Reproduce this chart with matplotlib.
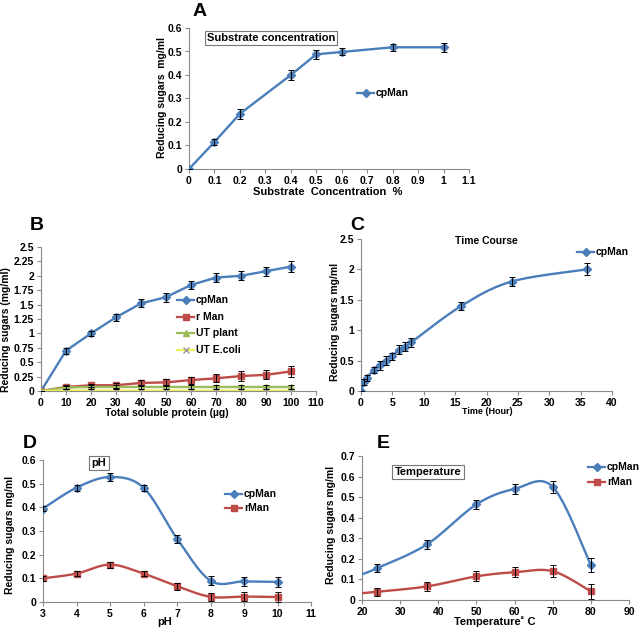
import numpy as np
import matplotlib
matplotlib.use("Agg")
import matplotlib.pyplot as plt

plt.rcParams['font.family'] = ['Liberation Sans', 'DejaVu Sans']
plt.rcParams['font.weight'] = 'bold'

BLUE = "#4A7EBB"
RED = "#BE4B48"
GREEN = "#9BBB59"
YELLOW = "#EEEE55"

# A: substrate concentration
a_x = [0, 0.1, 0.2, 0.4, 0.5, 0.6, 0.8, 1.0]
a_y = [0, 0.115, 0.235, 0.40, 0.488, 0.498, 0.518, 0.518]
a_err = [0, 0.012, 0.022, 0.02, 0.018, 0.015, 0.016, 0.02]

# B: total soluble protein
b_x = [0, 10, 20, 30, 40, 50, 60, 70, 80, 90, 100]
b_cp = [0, 0.70, 1.00, 1.28, 1.52, 1.63, 1.84, 1.97, 2.00, 2.08, 2.16]
b_cp_err = [0, 0.05, 0.05, 0.06, 0.07, 0.08, 0.07, 0.07, 0.08, 0.08, 0.09]
b_r = [0, 0.07, 0.10, 0.10, 0.14, 0.15, 0.19, 0.22, 0.26, 0.28, 0.34]
b_r_err = [0, 0.03, 0.03, 0.04, 0.05, 0.06, 0.06, 0.07, 0.08, 0.08, 0.09]
b_ut = [0, 0.06, 0.07, 0.07, 0.07, 0.07, 0.07, 0.07, 0.07, 0.07, 0.07]
b_ut_err = [0, 0.03, 0.03, 0.03, 0.03, 0.03, 0.03, 0.03, 0.03, 0.03, 0.03]
b_ec = [0, 0.005, 0.005, 0.005, 0.005, 0.005, 0.005, 0.005, 0.005, 0.005, 0.005]

# C: time course
c_x = [0, 0.5, 1, 2, 3, 4, 5, 6, 7, 8, 16, 24, 36]
c_y = [0, 0.15, 0.22, 0.35, 0.42, 0.50, 0.57, 0.68, 0.73, 0.80, 1.40, 1.80, 2.00]
c_err = [0, 0.05, 0.05, 0.05, 0.08, 0.07, 0.06, 0.07, 0.08, 0.07, 0.06, 0.07, 0.1]

# D: pH
d_x = [3, 4, 5, 6, 7, 8, 9, 10]
d_cp = [0.395, 0.483, 0.528, 0.483, 0.268, 0.09, 0.087, 0.085]
d_cp_err = [0.01, 0.013, 0.017, 0.013, 0.017, 0.02, 0.02, 0.022]
d_r = [0.10, 0.12, 0.158, 0.12, 0.067, 0.022, 0.023, 0.021]
d_r_err = [0.01, 0.01, 0.013, 0.01, 0.015, 0.017, 0.018, 0.02]

# E: temperature (first point of each line has no marker)
e_x = [20, 24, 37, 50, 60, 70, 80]
e_cp = [0.125, 0.155, 0.27, 0.465, 0.54, 0.55, 0.17]
e_cp_err = [0, 0.018, 0.02, 0.022, 0.025, 0.03, 0.033]
e_r = [0.033, 0.04, 0.066, 0.115, 0.135, 0.14, 0.042]
e_r_err = [0, 0.02, 0.02, 0.025, 0.025, 0.028, 0.035]


def smooth(x, y, n=25):
    # Excel style smoothed line (Catmull-Rom bezier)
    pts = np.column_stack([x, y]).astype(float)
    P = np.vstack([pts[0], pts, pts[-1]])
    out = []
    t = np.linspace(0, 1, n)[:, None]
    for i in range(1, len(P) - 2):
        p0, p1, p2, p3 = P[i - 1], P[i], P[i + 1], P[i + 2]
        c1 = p1 + (p2 - p0) / 6
        c2 = p2 - (p3 - p1) / 6
        seg = (1 - t) ** 3 * p1 + 3 * (1 - t) ** 2 * t * c1 + 3 * (1 - t) * t ** 2 * c2 + t ** 3 * p2
        out.append(seg)
    s = np.vstack(out)
    return s[:, 0], s[:, 1]


def style(ax, xlim, xticks, ylim, yticks, yfmt):
    ax.set_xlim(xlim)
    ax.set_ylim(ylim)
    ax.set_xticks(xticks)
    ax.set_yticks(yticks)
    ax.set_xticklabels([("%g" % v) for v in xticks])
    ax.set_yticklabels([yfmt(v) for v in yticks])
    for s in ["top", "right"]:
        ax.spines[s].set_visible(False)
    ax.spines["left"].set_color("#8a8a8a")
    ax.spines["bottom"].set_color("#8a8a8a")
    ax.tick_params(direction="out", length=3, width=0.8, color="#8a8a8a", labelsize=7.5, pad=2)
    for lab in ax.get_xticklabels() + ax.get_yticklabels():
        lab.set_fontweight("bold")
    ax.patch.set_alpha(0)


def ebar(ax, x, y, e):
    ax.errorbar(x, y, yerr=e, fmt="none", ecolor="black", elinewidth=0.7, capsize=2, capthick=0.7, zorder=4)


def boxed(fig, x, y, txt, size=8):
    fig.text(x / 642, 1 - y / 630, txt, ha="center", va="center", fontsize=size, fontweight="bold",
             bbox=dict(boxstyle="square,pad=0.2", fc="white", ec="#777777", lw=0.8))


def leg(fig, x0, y, color, marker, txt, ms=4, mcol=None):
    fig.lines.append(plt.Line2D([x0 / 642, (x0 + 17) / 642], [1 - y / 630] * 2, color=color, lw=1.6,
                                transform=fig.transFigure, figure=fig))
    fig.lines.append(plt.Line2D([(x0 + 8.5) / 642], [1 - y / 630], color=mcol or color, marker=marker, ms=ms,
                                lw=0, transform=fig.transFigure, figure=fig))
    fig.text((x0 + 19) / 642, 1 - y / 630, txt, ha="left", va="center", fontsize=7.5, fontweight="bold")


fig = plt.figure(figsize=(6.42, 6.30), dpi=100)

f2 = lambda v: "%g" % v

# ---- A
axA = fig.add_axes([189 / 642, 1 - 169 / 630, 280 / 642, 141 / 630])
axA.plot(a_x, a_y, color=BLUE, lw=1.7, marker="D", ms=4, zorder=3)
ebar(axA, a_x, a_y, a_err)
style(axA, (0, 1.1), [0, 0.1, 0.2, 0.3, 0.4, 0.5, 0.6, 0.7, 0.8, 0.9, 1.0, 1.1], (0, 0.6),
      [0, 0.1, 0.2, 0.3, 0.4, 0.5, 0.6], f2)
fig.text(162 / 642, 1 - 97 / 630, "Reducing sugars  mg/ml", rotation=90, ha="center", va="center", fontsize=7.5)
fig.text(328 / 642, 1 - 192 / 630, "Substrate  Concentration  %", ha="center", va="center", fontsize=8)
fig.text(200 / 642, 1 - 12 / 630, "A", ha="center", va="center", fontsize=14, fontweight="bold")
boxed(fig, 271, 38, "Substrate concentration", 8)
leg(fig, 357, 93, BLUE, "D", "cpMan", ms=4)

# ---- B
axB = fig.add_axes([41 / 642, 1 - 391 / 630, 275 / 642, 144 / 630])
axB.plot(b_x, b_cp, color=BLUE, lw=1.7, marker="D", ms=4, zorder=3)
axB.plot(b_x, b_r, color=RED, lw=1.7, marker="s", ms=5, zorder=3)
axB.plot(b_x, b_ut, color=GREEN, lw=1.7, marker="^", ms=4.5, zorder=3)
axB.plot(b_x, b_ec, color=YELLOW, lw=1.7, zorder=3)
axB.plot(b_x, b_ec, color="#999999", lw=0, marker="x", ms=4.5, mew=1, zorder=3)
ebar(axB, b_x, b_cp, b_cp_err)
ebar(axB, b_x, b_r, b_r_err)
ebar(axB, b_x, b_ut, b_ut_err)
style(axB, (0, 110), list(range(0, 111, 10)), (0, 2.5), [0, 0.25, 0.5, 0.75, 1, 1.25, 1.5, 1.75, 2, 2.25, 2.5], f2)
fig.text(6 / 642, 1 - 330 / 630, "Reducing sugars (mg/ml)", rotation=90, ha="center", va="center", fontsize=7.5)
fig.text(167 / 642, 1 - 413 / 630, "Total soluble protein (\u00b5g)", ha="center", va="center", fontsize=7.5)
fig.text(37 / 642, 1 - 225 / 630, "B", ha="center", va="center", fontsize=14, fontweight="bold")
leg(fig, 177, 300, BLUE, "D", "cpMan", ms=4)
leg(fig, 177, 317, RED, "s", "r Man", ms=5)
leg(fig, 177, 333, GREEN, "^", "UT plant", ms=4.5)
leg(fig, 177, 350, YELLOW, "x", "UT E.coli", ms=4.5, mcol="#999999")

# ---- C
axC = fig.add_axes([361 / 642, 1 - 391 / 630, 251 / 642, 152 / 630])
sx, sy = smooth(c_x, c_y)
axC.plot(sx, sy, color=BLUE, lw=1.7, zorder=3)
axC.plot(c_x, c_y, color=BLUE, lw=0, marker="D", ms=4, zorder=3)
ebar(axC, c_x, c_y, c_err)
style(axC, (0, 40), list(range(0, 41, 5)), (0, 2.5), [0, 0.5, 1, 1.5, 2, 2.5], f2)
fig.text(335 / 642, 1 - 322 / 630, "Reducing sugars mg/ml", rotation=90, ha="center", va="center", fontsize=7.5)
fig.text(487 / 642, 1 - 411 / 630, "Time (Hour)", ha="center", va="center", fontsize=6.5)
fig.text(357 / 642, 1 - 225 / 630, "C", ha="center", va="center", fontsize=14, fontweight="bold")
fig.text(486 / 642, 1 - 241 / 630, "Time Course", ha="center", va="center", fontsize=7.5)
leg(fig, 577, 252, BLUE, "D", "cpMan", ms=4)

# ---- D
axD = fig.add_axes([43 / 642, 1 - 602 / 630, 268 / 642, 142 / 630])
sx, sy = smooth(d_x, d_cp)
axD.plot(sx, sy, color=BLUE, lw=1.7, zorder=3)
axD.plot(d_x, d_cp, color=BLUE, lw=0, marker="D", ms=4, zorder=3)
sx, sy = smooth(d_x, d_r)
axD.plot(sx, sy, color=RED, lw=1.7, zorder=3)
axD.plot(d_x, d_r, color=RED, lw=0, marker="s", ms=5, zorder=3)
ebar(axD, d_x, d_cp, d_cp_err)
ebar(axD, d_x, d_r, d_r_err)
style(axD, (3, 11), list(range(3, 12)), (0, 0.6), [0, 0.1, 0.2, 0.3, 0.4, 0.5, 0.6], f2)
fig.text(10 / 642, 1 - 535 / 630, "Reducing sugars mg/ml", rotation=90, ha="center", va="center", fontsize=7.5)
fig.text(165 / 642, 1 - 622 / 630, "pH", ha="center", va="center", fontsize=8)
fig.text(30 / 642, 1 - 443 / 630, "D", ha="center", va="center", fontsize=14, fontweight="bold")
boxed(fig, 99, 463, "pH", 8)
leg(fig, 225, 494, BLUE, "D", "cpMan", ms=4)
leg(fig, 225, 508, RED, "s", "rMan", ms=5)

# ---- E
axE = fig.add_axes([362 / 642, 1 - 600 / 630, 267 / 642, 144 / 630])
sx, sy = smooth(e_x, e_cp)
axE.plot(sx, sy, color=BLUE, lw=1.7, zorder=3)
axE.plot(e_x[1:], e_cp[1:], color=BLUE, lw=0, marker="D", ms=4, zorder=3)
sx, sy = smooth(e_x, e_r)
axE.plot(sx, sy, color=RED, lw=1.7, zorder=3)
axE.plot(e_x[1:], e_r[1:], color=RED, lw=0, marker="s", ms=5, zorder=3)
ebar(axE, e_x[1:], e_cp[1:], e_cp_err[1:])
ebar(axE, e_x[1:], e_r[1:], e_r_err[1:])
style(axE, (20, 90), list(range(20, 91, 10)), (0, 0.7), [0, 0.1, 0.2, 0.3, 0.4, 0.5, 0.6, 0.7], f2)
fig.text(331 / 642, 1 - 525 / 630, "Reducing sugars mg/ml", rotation=90, ha="center", va="center", fontsize=7.5)
fig.text(495 / 642, 1 - 622 / 630, "Temperature\u02da C", ha="center", va="center", fontsize=8)
fig.text(383 / 642, 1 - 443 / 630, "E", ha="center", va="center", fontsize=14, fontweight="bold")
boxed(fig, 428, 472, "Temperature", 8)
leg(fig, 588, 467, BLUE, "D", "cpMan", ms=4)
leg(fig, 588, 482, RED, "s", "rMan", ms=5)

fig.savefig("out.png", dpi=100)
